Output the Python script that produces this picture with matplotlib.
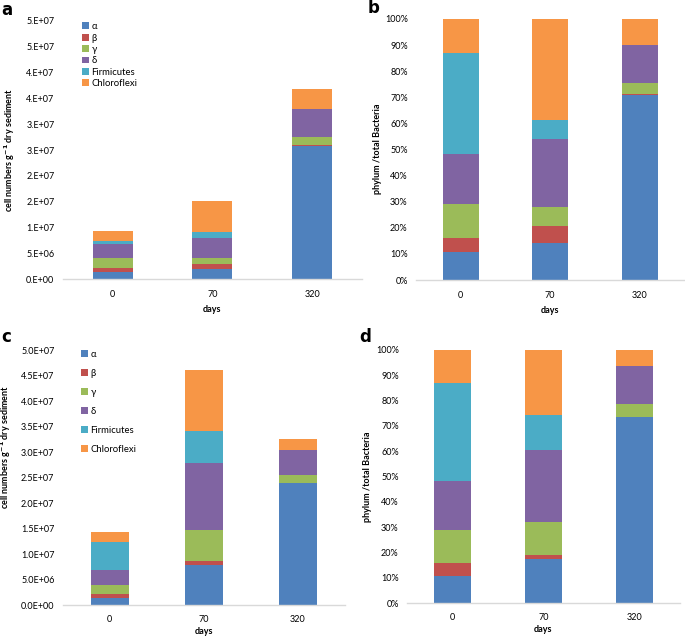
import numpy as np
import matplotlib
matplotlib.use("Agg")
import matplotlib.pyplot as plt
from matplotlib.ticker import FuncFormatter, MultipleLocator

plt.rcParams['font.family'] = ['Lato', 'DejaVu Sans']

# Data
days = ["0", "70", "320"]
groups = ["\u03b1", "\u03b2", "\u03b3", "\u03b4", "Firmicutes", "Chloroflexi"]
colors = ["#4F81BD", "#C0504D", "#9BBB59", "#8064A2", "#4BACC6", "#F79646"]

# cell numbers, units of 1e6 per g dry sediment (one row per group, columns = days)
cells_a = [
    [1.41, 2.05, 25.9],   # alpha
    [0.84, 0.91, 0.15],   # beta
    [1.85, 1.14, 1.50],   # gamma
    [2.80, 3.95, 5.40],   # delta
    [0.50, 1.10, 0.00],   # Firmicutes
    [1.95, 5.95, 3.80],   # Chloroflexi
]
cells_c = [
    [1.49, 7.95, 23.9],
    [0.71, 0.72, 0.05],
    [1.80, 6.13, 1.60],
    [2.90, 13.1, 4.90],
    [5.55, 6.30, 0.00],
    [1.90, 11.8, 2.20],
]
# phylum / total Bacteria, percent
pct_b = [
    [10.6, 14.3, 70.8],
    [5.6, 6.4, 0.3],
    [12.8, 7.3, 4.4],
    [19.2, 26.0, 14.7],
    [38.8, 7.3, 0.0],
    [13.0, 38.7, 9.8],
]
pct_d = [
    [10.6, 17.3, 73.3],
    [5.3, 1.6, 0.1],
    [13.1, 13.3, 5.2],
    [19.1, 28.2, 15.1],
    [38.6, 14.0, 0.0],
    [13.3, 25.6, 6.3],
]

W, H = 685, 638
fig = plt.figure(figsize=(W / 100, H / 100), dpi=100)


def px_axes(x0, y0, x1, y1):
    # pixel box (left, top, right, bottom) -> figure axes
    return fig.add_axes([x0 / W, 1 - y1 / H, (x1 - x0) / W, (y1 - y0) / H])


def excel_round_sci(v, pos):
    # Excel style "0.E+00" (rounds half up)
    if v == 0:
        return "0.E+00"
    e = int(np.floor(np.log10(abs(v))))
    m = int(np.floor(v / 10 ** e + 0.5))
    if m == 10:
        m, e = 1, e + 1
    return "%d.E+%02d" % (m, e)


def stacked(ax, data, scale, xpad=8, lpad=4):
    x = np.arange(len(days))
    bottom = np.zeros(len(days))
    for name, vals, col in zip(groups, data, colors):
        v = np.array(vals) * scale
        ax.bar(x, v, 0.4, bottom=bottom, color=col, label=name, linewidth=0)
        bottom += v
    ax.set_xlim(-0.5, 2.5)
    ax.set_xticks(x)
    ax.set_xticklabels(days)
    for s in ["left", "right", "top"]:
        ax.spines[s].set_visible(False)
    ax.spines["bottom"].set_color("#D9D9D9")
    ax.spines["bottom"].set_linewidth(1.0)
    ax.tick_params(axis="both", length=0, labelsize=6.5, colors="#000000")
    ax.tick_params(axis="x", pad=xpad)
    ax.tick_params(axis="y", pad=6)
    ax.set_xlabel("days", fontsize=6.5, fontweight="bold", labelpad=lpad)


ylab_cells = r"cell numbers g$^{\mathbf{-1}}$ dry sediment"
ylab_pct = "phylum /total Bacteria"

# a
ax_a = px_axes(62.8, 21, 362, 279.3)
stacked(ax_a, cells_a, 1e6, 8, 4)
ax_a.set_ylim(0, 5e7)
ax_a.yaxis.set_major_locator(MultipleLocator(5e6))
ax_a.yaxis.set_major_formatter(FuncFormatter(excel_round_sci))
ax_a.legend(loc="upper left", bbox_to_anchor=(0.05, 1.01), frameon=False,
            fontsize=6.8, handlelength=0.75, handleheight=0.75,
            handletextpad=0.3, labelspacing=0.25, borderaxespad=0)

# b
ax_b = px_axes(416, 19, 684.5, 280)
stacked(ax_b, pct_b, 1, 8, 4)
ax_b.set_ylim(0, 100)
ax_b.yaxis.set_major_locator(MultipleLocator(10))
ax_b.yaxis.set_major_formatter(FuncFormatter(lambda v, p: "%d%%" % round(v)))

# c
ax_c = px_axes(62.8, 350, 345, 605.3)
stacked(ax_c, cells_c, 1e6, 7, 2)
ax_c.set_ylim(0, 5e7)
ax_c.yaxis.set_major_locator(MultipleLocator(5e6))
ax_c.yaxis.set_major_formatter(FuncFormatter(lambda v, p: "%.1E" % v))
ax_c.legend(loc="upper left", bbox_to_anchor=(0.05, 1.015), frameon=False,
            fontsize=6.8, handlelength=0.75, handleheight=0.75,
            handletextpad=0.3, labelspacing=1.05, borderaxespad=0)

# d
ax_d = px_axes(407, 349.7, 680, 603.3)
stacked(ax_d, pct_d, 1, 7, 2)
ax_d.set_ylim(0, 100)
ax_d.yaxis.set_major_locator(MultipleLocator(10))
ax_d.yaxis.set_major_formatter(FuncFormatter(lambda v, p: "%d%%" % round(v)))

# axis titles placed at fixed pixel spots
fig.text(10 / W, 1 - 150 / H, ylab_cells, rotation=90, ha="center", va="center",
         fontsize=6.5, fontweight="bold")
fig.text(6 / W, 1 - 447 / H, ylab_cells, rotation=90, ha="center", va="center",
         fontsize=6.5, fontweight="bold")
fig.text(378 / W, 1 - 149 / H, ylab_pct, rotation=90, ha="center", va="center",
         fontsize=6.5, fontweight="bold")
fig.text(367 / W, 1 - 477 / H, ylab_pct, rotation=90, ha="center", va="center",
         fontsize=6.5, fontweight="bold")

# panel letters
for lab, x, y in [("a", 1, 10), ("b", 368, 8), ("c", 1, 337), ("d", 359, 337)]:
    fig.text(x / W, 1 - y / H, lab, fontsize=12, fontweight="bold",
             ha="left", va="center", family="DejaVu Sans")

fig.savefig("out.png", dpi=100)
